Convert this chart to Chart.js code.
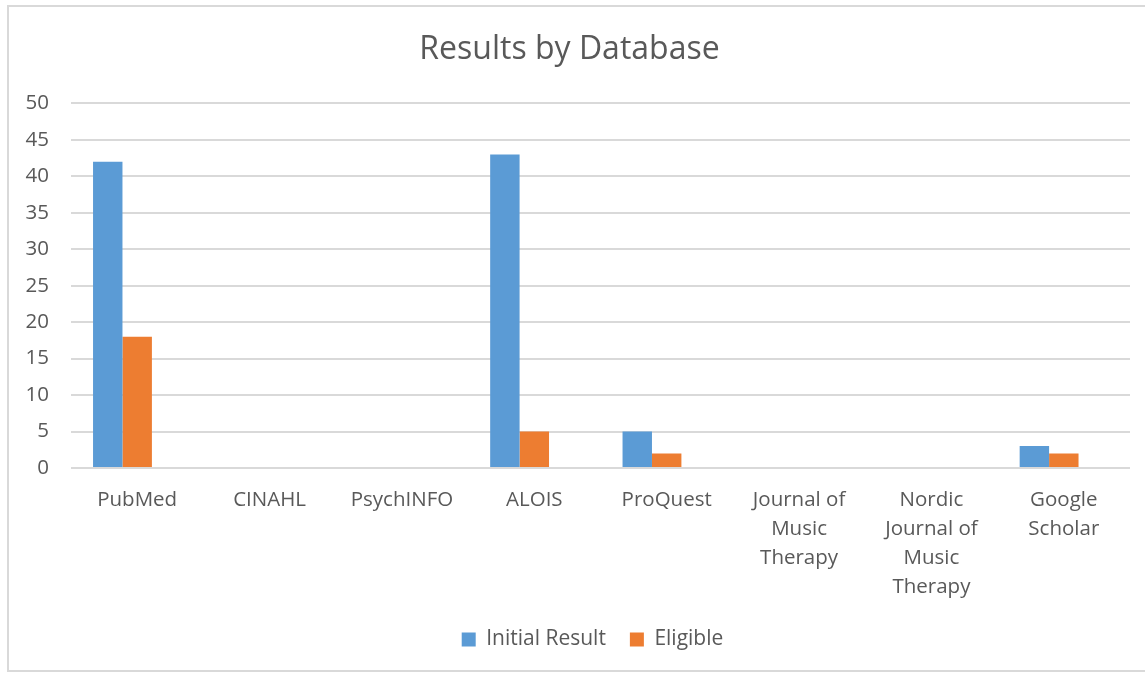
<!DOCTYPE html>
<html>
<head>
<meta charset="utf-8">
<script src="https://cdn.jsdelivr.net/npm/chart.js@4"></script>
<style>
  body { margin: 0; background: #fff; }
  #frame {
    position: absolute; left: 7px; top: 5px; width: 1145px; height: 667px;
    border-left: 2px solid #d9d9d9; border-top: 2px solid #d9d9d9; border-bottom: 2px solid #d9d9d9;
    box-sizing: border-box;
  }
  #wrap { position: absolute; left: 0; top: 0; width: 1136px; height: 665px; }
</style>
</head>
<body>
<div id="frame"><div id="wrap"><canvas id="chart"></canvas></div></div>
<script>
const categories = ['PubMed', 'CINAHL', 'PsychINFO', 'ALOIS', 'ProQuest',
  ['Journal of', 'Music', 'Therapy'], ['Nordic', 'Journal of', 'Music', 'Therapy'], ['Google', 'Scholar']];
const initialResult = [42, 0, 0, 43, 5, 0, 0, 3];
const eligible = [18, 0, 0, 5, 2, 0, 0, 2];

const font = "'Open Sans', 'DejaVu Sans', sans-serif";
const grey = '#595959';

// nudge the legend to the right, the original frame is wider than the picture
const legendShift = {
  id: 'legendShift',
  afterLayout(chart) {
    chart.legend.left += 23;
    chart.legend.right += 23;
  }
};

new Chart(document.getElementById('chart'), {
  type: 'bar',
  data: {
    labels: categories,
    datasets: [
      { label: 'Initial Result', data: initialResult, backgroundColor: '#5b9bd5' },
      { label: 'Eligible', data: eligible, backgroundColor: '#ed7d31' },
      // empty slot: the original bars sit left of their category label
      { label: '', data: [], backgroundColor: 'rgba(0,0,0,0)' }
    ]
  },
  options: {
    responsive: true,
    maintainAspectRatio: false,
    animation: false,
    categoryPercentage: 0.667,
    barPercentage: 1,
    layout: { padding: { left: 0, right: 15, top: 24, bottom: 12 } },
    plugins: {
      title: {
        display: true, text: 'Results by Database', color: grey,
        font: { family: font, size: 32, weight: 'normal' },
        padding: { top: 0, bottom: 34 }
      },
      legend: {
        position: 'bottom',
        labels: {
          color: grey, boxWidth: 14, boxHeight: 14, padding: 24,
          font: { family: font, size: 21 },
          filter: (item) => item.text !== ''
        }
      },
      tooltip: { enabled: false }
    },
    scales: {
      x: {
        grid: { display: false },
        border: { display: false },
        ticks: { color: grey, padding: 9, maxRotation: 0, font: { family: font, size: 20.5, lineHeight: 1.43 } },
        afterFit: (scale) => { scale.height = 137; }
      },
      y: {
        min: 0, max: 50,
        grid: { color: '#d9d9d9', lineWidth: 2, drawTicks: false },
        border: { display: false },
        ticks: { stepSize: 5, color: grey, padding: 22, font: { family: font, size: 20.5 } },
        afterFit: (scale) => { scale.width = 62; }
      }
    }
  },
  plugins: [legendShift]
});
</script>
</body>
</html>
